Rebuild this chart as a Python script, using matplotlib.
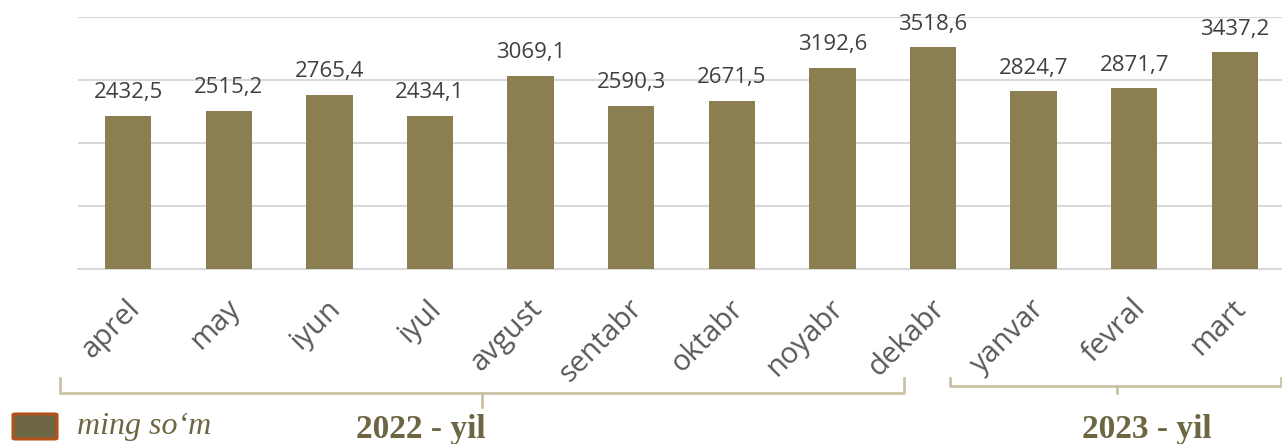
import numpy as np
import matplotlib
matplotlib.use('Agg')
import matplotlib.pyplot as plt
import matplotlib.patches as patches
import matplotlib.transforms as mtransforms
from matplotlib.lines import Line2D

W, H = 1282, 444

months = ['aprel', 'may', 'iyun', 'iyul', 'avgust', 'sentabr', 'oktabr',
          'noyabr', 'dekabr', 'yanvar', 'fevral', 'mart']
values = [2432.5, 2515.2, 2765.4, 2434.1, 3069.1, 2590.3, 2671.5,
          3192.6, 3518.6, 2824.7, 2871.7, 3437.2]
year_labels = ['2022 - yil', '2023 - yil']
unit_label = 'ming so\u2018m'

BAR_COLOR = '#8B7F52'
GRID_COLOR = '#D9D9D9'
BRACKET_COLOR = '#C9C0A0'
TEXT_OLIVE = '#6E6642'


def px(x, y):
    # pixel coords (from top-left) -> figure fraction
    return x / W, 1 - y / H


fig = plt.figure(figsize=(W / 100, H / 100), dpi=100)
x0, y0 = px(78, 269)
x1, y1 = px(1282, 17)
ax = fig.add_axes([x0, y0, x1 - x0, y1 - y0])

xs = np.arange(len(months))
ax.bar(xs, values, width=0.46, color=BAR_COLOR, zorder=3)

for x, v in zip(xs, values):
    ax.annotate('{:.1f}'.format(v).replace('.', ','), (x, v),
                xytext=(0, 9), textcoords='offset points',
                ha='center', va='bottom', fontsize=16,
                family='Open Sans', color='#404040')

ax.set_xlim(-0.5, 11.47)
ax.set_ylim(0, 4000)
ax.set_yticks([1000, 2000, 3000, 4000])
ax.yaxis.grid(True, color=GRID_COLOR, linewidth=1.5, zorder=0)
ax.tick_params(axis='y', left=False, labelleft=False)
for s in ['top', 'right', 'left']:
    ax.spines[s].set_visible(False)
ax.spines['bottom'].set_color(GRID_COLOR)
ax.spines['bottom'].set_linewidth(1.5)

ax.set_xticks(xs)
ax.set_xticklabels(months, rotation=45, ha='right', rotation_mode='anchor',
                   fontsize=21, family='Open Sans', color='#595959')
ax.tick_params(axis='x', length=0, pad=18)
for lbl in ax.get_xticklabels():
    lbl.set_transform(lbl.get_transform() +
                      mtransforms.ScaledTranslation(-3 / 100, 0,
                                                    fig.dpi_scale_trans))


def bracket(xa, xb, y_end, y_line, xm, y_tick):
    pts = [px(xa, y_end), px(xa, y_line), px(xb, y_line), px(xb, y_end)]
    fig.add_artist(Line2D([p[0] for p in pts], [p[1] for p in pts],
                          color=BRACKET_COLOR, linewidth=1.9,
                          solid_joinstyle='round'))
    a, b = px(xm, y_line), px(xm, y_tick)
    fig.add_artist(Line2D([a[0], b[0]], [a[1], b[1]],
                          color=BRACKET_COLOR, linewidth=1.9))


bracket(60, 904, 378, 393, 482, 407)
bracket(950, 1281, 378, 386, 1117, 393)

for (cx, by), txt in zip([(421, 438), (1147, 438)], year_labels):
    fx, fy = px(cx, by)
    fig.text(fx, fy, txt, ha='center', va='baseline', fontsize=24,
             family='Liberation Serif', fontweight='bold', color=TEXT_OLIVE)

lx, ly = px(13, 439)
fig.add_artist(patches.FancyBboxPatch(
    (lx, ly), 44 / W, 25 / H, boxstyle='round,pad=0,rounding_size=0.002',
    transform=fig.transFigure, facecolor='#6E6745', edgecolor='#B4521A',
    linewidth=2.2))
tx, ty = px(77, 434)
fig.text(tx, ty, unit_label, ha='left', va='baseline', fontsize=23,
         family='Liberation Serif', style='italic', color=TEXT_OLIVE)

fig.savefig('out.png', dpi=100)
